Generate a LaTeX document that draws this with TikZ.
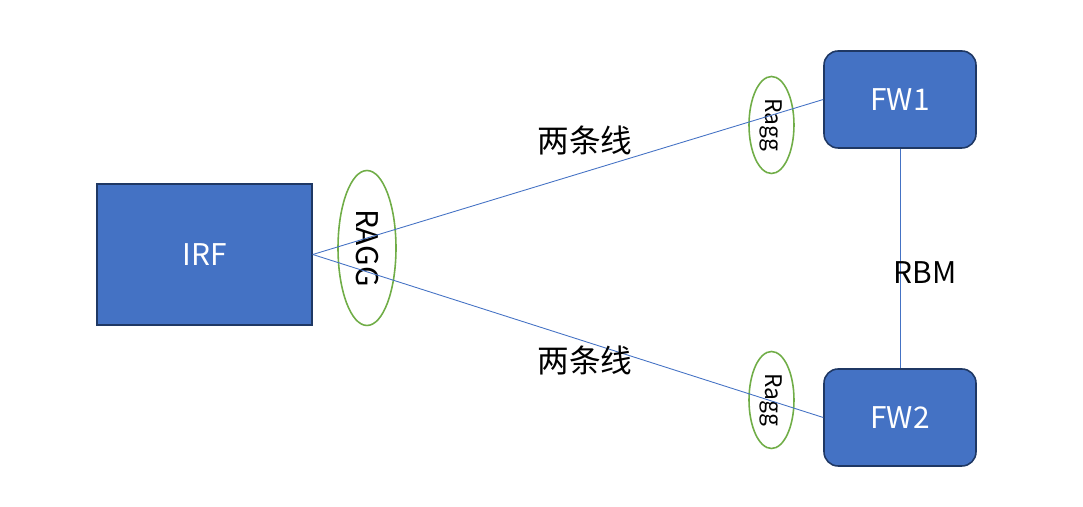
\documentclass[tikz,border=0pt]{standalone}
\usepackage{fontspec}
\setmainfont{Noto Sans CJK SC}
\usetikzlibrary{shapes, positioning}
\definecolor{blue1}{RGB}{68,114,196}
\definecolor{navy1}{RGB}{31,56,100}
\definecolor{green1}{RGB}{112,173,71}

\begin{document}
\begin{tikzpicture}[x=0.02cm, y=0.02cm,
  box/.style={draw=navy1, line width=0.9pt, fill=blue1, text=white, font=\fontsize{17}{20}\selectfont},
  agg/.style={draw=green1, line width=0.9pt, ellipse, inner sep=0pt, rotate=-90},
  link/.style={draw=blue1, line width=0.5pt}]
  \useasboundingbox (0,0) rectangle (1083,507);

  % devices
  \node[box, minimum width=4.3cm, minimum height=2.82cm] (irf) at (204.5,252.5) {IRF};
  \node[box, rounded corners=8pt, minimum width=3.04cm, minimum height=1.94cm] (fw1) at (900,407.5) {FW1};
  \node[box, rounded corners=8pt, minimum width=3.04cm, minimum height=1.94cm] (fw2) at (900,89.5) {FW2};

  % aggregation groups
  \node[agg, minimum width=3.1cm, minimum height=1.16cm, font=\fontsize{17}{20}\selectfont] (ragg) at (367,259) {RAGG};
  \node[agg, minimum width=1.94cm, minimum height=0.9cm, font=\fontsize{13}{15}\selectfont] (ragg1) at (771.5,382) {Ragg};
  \node[agg, minimum width=1.94cm, minimum height=0.9cm, font=\fontsize{13}{15}\selectfont] (ragg2) at (771.5,107) {Ragg};

  % links
  \draw[link] (irf.east) -- (fw1.west);
  \draw[link] (irf.east) -- (fw2.west);
  \draw[link] (fw1.south) -- (fw2.north);

  \node[font=\fontsize{17}{20}\selectfont] (rbm) at (925,234) {RBM};
  \node[font=\fontsize{18}{21}\selectfont] (lbl1) at (585,367) {两条线};
  \node[font=\fontsize{18}{21}\selectfont] (lbl2) at (585,147) {两条线};
\end{tikzpicture}
\end{document}
